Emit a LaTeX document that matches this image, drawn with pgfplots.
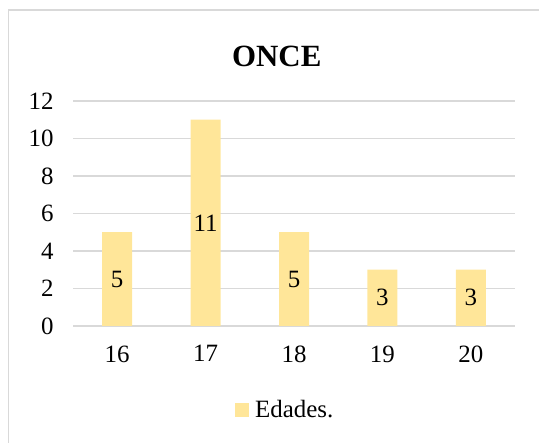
\documentclass[border=0pt]{standalone}
\usepackage{pgfplots}
\pgfplotsset{compat=1.18}
\usepackage{fontspec}
\setmainfont{Liberation Serif}
\definecolor{barcol}{HTML}{FFE699}
\definecolor{gridcol}{HTML}{D9D9D9}

\begin{document}
\begin{tikzpicture}
\useasboundingbox (0,0) rectangle (539bp,443bp);
\begin{scope}
\clip (0,0) rectangle (539bp,443bp);
\draw[gridcol, line width=1.2bp] (8.5bp,433bp) rectangle (560bp,-20bp);
\end{scope}
\begin{axis}[
    at={(73bp,117bp)}, anchor=south west,
    scale only axis,
    width=442bp, height=225bp,
    ybar, bar width=30bp,
    xmin=-0.5, xmax=4.5,
    ymin=0, ymax=12,
    xtick={0,1,2,3,4},
    xticklabels={16,17,18,19,20},
    ytick={0,2,4,6,8,10,12},
    ymajorgrids=true,
    grid style={gridcol, line width=1.2bp},
    axis x line*=bottom,
    axis y line*=left,
    y axis line style={draw=none},
    x axis line style={gridcol, line width=1.2bp, -},
    major tick length=0pt,
    tick label style={font=\fontsize{25}{28}\selectfont},
    /pgf/number format/assume math mode=true,
    xticklabel style={yshift=-16bp},
    yticklabel style={xshift=-16bp},
    title={ONCE},
    title style={font=\fontsize{31}{34}\selectfont\bfseries, at={(0.461,1)}, anchor=south, yshift=25bp},
    legend style={at={(0.48,-0.373)}, anchor=center, draw=none,
        font=\fontsize{25}{28}\selectfont, /tikz/every odd column/.append style={column sep=4bp}},
    legend image code/.code={\fill[barcol] (0bp,-7bp) rectangle (14bp,7bp);},
    nodes near coords,
    visualization depends on=rawy \as \rawy,
    every node near coord/.append style={anchor=center, yshift={-\rawy*9.375bp}, font=\fontsize{25}{28}\selectfont},
]
\addplot[fill=barcol, draw=none] coordinates {(0,5) (1,11) (2,5) (3,3) (4,3)};
\legend{Edades.}
\end{axis}
\end{tikzpicture}
\end{document}
